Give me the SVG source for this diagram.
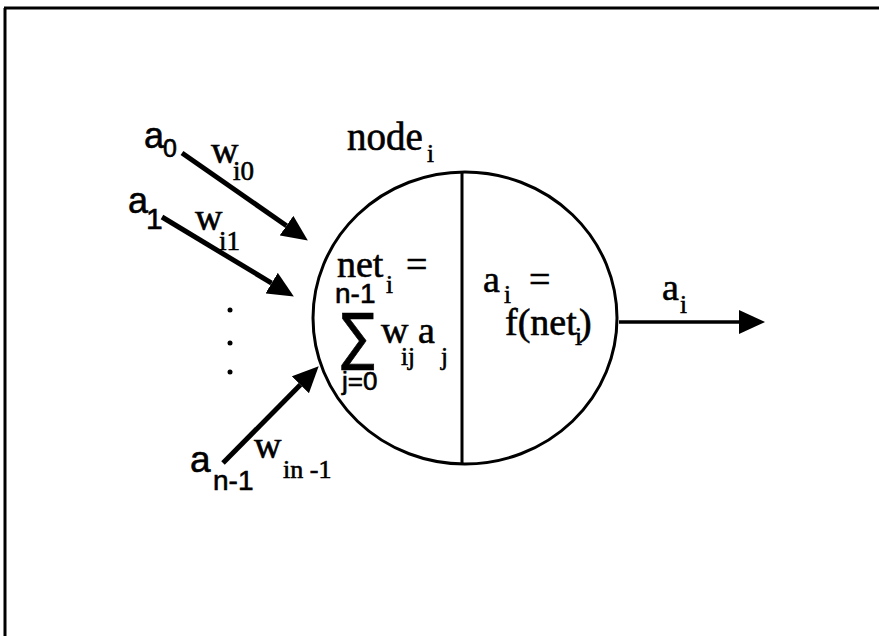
<svg xmlns="http://www.w3.org/2000/svg" width="879" height="636" viewBox="0 0 879 636">
<defs>
<style>
text{stroke:#000;stroke-width:0.6}
.serif{font-family:"Liberation Serif","Times New Roman",serif;fill:#000}
.sans{font-family:"Liberation Sans",Arial,sans-serif;fill:#000}
.big{font-size:38px}
.sub{font-size:25px}
.arrow{stroke:#000;fill:none}
</style>
<marker id="head" viewBox="0 0 26 24" refX="0" refY="12" markerWidth="26" markerHeight="24" markerUnits="userSpaceOnUse" orient="auto">
<path d="M0,0 L26,12 L0,24 Z" fill="#000"/>
</marker>
</defs>
<rect width="879" height="636" fill="#fff"/>
<g id="frame" stroke="#000" stroke-width="3">
<line x1="4" y1="8" x2="879" y2="8"/>
<line x1="5" y1="8" x2="5" y2="636"/>
</g>
<g id="connectors">
<line class="arrow" x1="182" y1="153" x2="286.5" y2="225.7" stroke-width="5" marker-end="url(#head)"/>
<line class="arrow" x1="162" y1="217" x2="271.6" y2="283.1" stroke-width="5" marker-end="url(#head)"/>
<line class="arrow" x1="223" y1="463" x2="300.4" y2="384.8" stroke-width="5" marker-end="url(#head)"/>
<line class="arrow" x1="619" y1="322" x2="739" y2="322" stroke-width="3.5" marker-end="url(#head)"/>
</g>
<g id="input-a0">
<text class="sans" font-size="36" x="144" y="148">a</text>
<text class="sans" font-size="25" x="163" y="157">0</text>
<text class="serif big" x="211" y="163">w</text>
<text class="serif" font-size="27" x="233" y="180">i0</text>
</g>
<g id="input-a1">
<text class="sans" font-size="36" x="128" y="213">a</text>
<text class="sans" font-size="30" x="146" y="229">1</text>
<text class="serif big" x="195" y="230">w</text>
<text class="serif" font-size="27" x="219" y="250">i1</text>
</g>
<g id="dots" fill="#000">
<circle cx="230" cy="310" r="2.5"/>
<circle cx="230" cy="343" r="2.5"/>
<circle cx="230" cy="372" r="2.5"/>
</g>
<g id="input-an-1">
<text class="sans" font-size="37" x="190" y="472">a</text>
<text class="sans" font-size="28" x="213" y="490">n-1</text>
<text class="serif big" x="254" y="458">w</text>
<text class="serif" font-size="26" x="283" y="478">in -1</text>
</g>
<g id="node">
<ellipse cx="465" cy="318" rx="152" ry="146" fill="none" stroke="#000" stroke-width="3"/>
<line x1="462" y1="172" x2="462" y2="464" stroke="#000" stroke-width="3"/>
<text class="serif" font-size="39" x="347" y="150">node</text>
<text class="serif sub" x="427" y="162">i</text>
<text class="serif big" x="337" y="277">net</text>
<text class="serif sub" x="386" y="293">i</text>
<text class="serif big" x="406" y="277">=</text>
<text class="sans" font-size="28" x="335" y="303">n-1</text>
<text font-family="'DejaVu Sans',sans-serif" font-size="50" stroke-width="0.2" transform="translate(341,358) scale(1,1.25)">∑</text>
<text class="serif big" x="381" y="343">w</text>
<text class="serif sub" x="401" y="365">ij</text>
<text class="serif big" x="418" y="343">a</text>
<text class="serif sub" x="441" y="365">j</text>
<text class="sans" font-size="26" x="342" y="390">j=0</text>
<text class="serif big" x="483" y="292">a</text>
<text class="serif sub" x="504" y="303">i</text>
<text class="serif big" x="529" y="292">=</text>
<text class="serif big" x="505" y="335">f(net</text>
<text class="serif sub" x="575" y="345">i</text>
<text class="serif big" x="579" y="335">)</text>
</g>
<g id="output">
<text class="serif big" x="662" y="300">a</text>
<text class="serif sub" x="680" y="313">i</text>
</g>
</svg>
